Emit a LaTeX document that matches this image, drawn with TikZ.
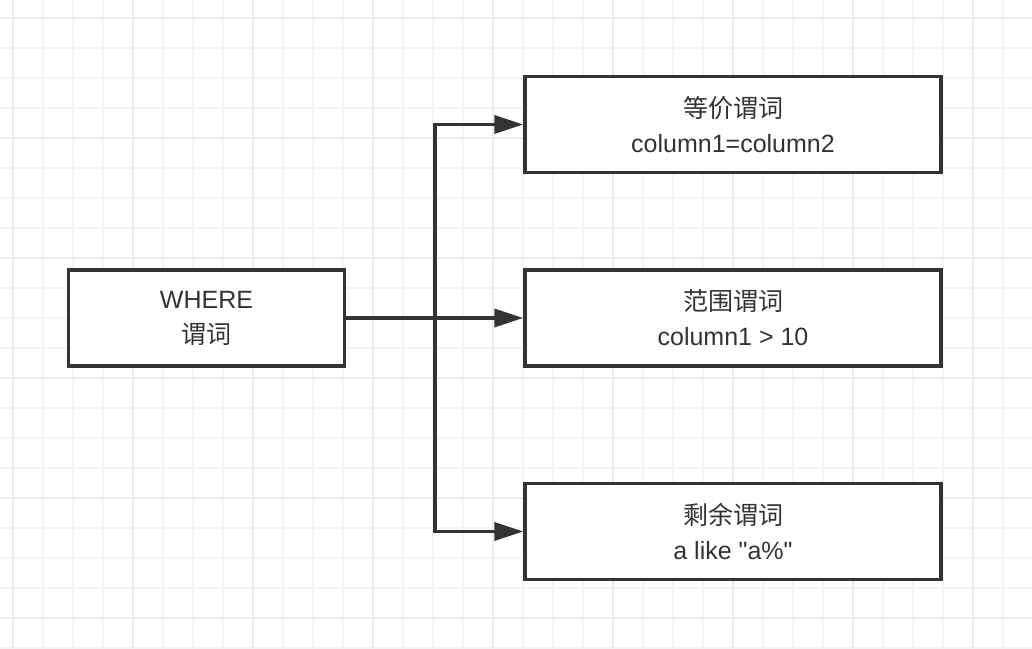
\documentclass[tikz,border=0pt]{standalone}
\usepackage{fontspec}
\setmainfont{Liberation Sans}
\newfontfamily\cjk{Noto Sans CJK SC}
\usetikzlibrary{arrows.meta,positioning}
\definecolor{ink}{HTML}{333333}
\definecolor{gridlt}{HTML}{F4F4F4}
\definecolor{griddk}{HTML}{ECECEC}
\tikzset{
  blk/.style={rectangle,draw=ink,line width=3.5pt,fill=white,
              minimum width=#1,minimum height=96pt,inner sep=0pt,
              font=\fontsize{25}{35}\selectfont,align=center,text=ink},
  arr/.style={-{Triangle[length=29pt,width=18pt]},line width=3.5pt,color=ink},
  gmin/.style={line width=1.5pt,color=gridlt},
  gmaj/.style={line width=2pt,color=griddk},
}
\begin{document}
\begin{tikzpicture}[x=1pt,y=-1pt]
  \useasboundingbox (0,0) rectangle (1032,648);
  \fill[white] (0,0) rectangle (1032,648);
  % background grid
  \foreach \gx in {13,43,...,1003} \draw[gmin] (\gx,0) -- (\gx,648);
  \foreach \gy in {18,48,...,648} \draw[gmin] (0,\gy) -- (1032,\gy);
  \foreach \gx in {13,133,...,1003} \draw[gmaj] (\gx,0) -- (\gx,648);
  \foreach \gy in {18,138,...,648} \draw[gmaj] (0,\gy) -- (1032,\gy);

  \node[blk=276pt] (where) at (206.5,318) {WHERE\\{\cjk 谓词}};
  \node[blk=416pt,right=177pt of where] (rng) {{\cjk 范围谓词}\\column1 > 10};
  \node[blk=416pt,above=94pt of rng] (eqv) {{\cjk 等价谓词}\\column1=column2};
  \node[blk=416pt,below=114pt of rng] (rest) {{\cjk 剩余谓词}\\a like \textquotedbl a\%\textquotedbl};

  \draw[arr] (where.east) -- (rng.west);
  \path (where.east) -- ++(88.5,0) coordinate (fork);
  \draw[arr] (fork) |- (eqv.west);
  \draw[arr] (fork) |- (rest.west);
\end{tikzpicture}
\end{document}
